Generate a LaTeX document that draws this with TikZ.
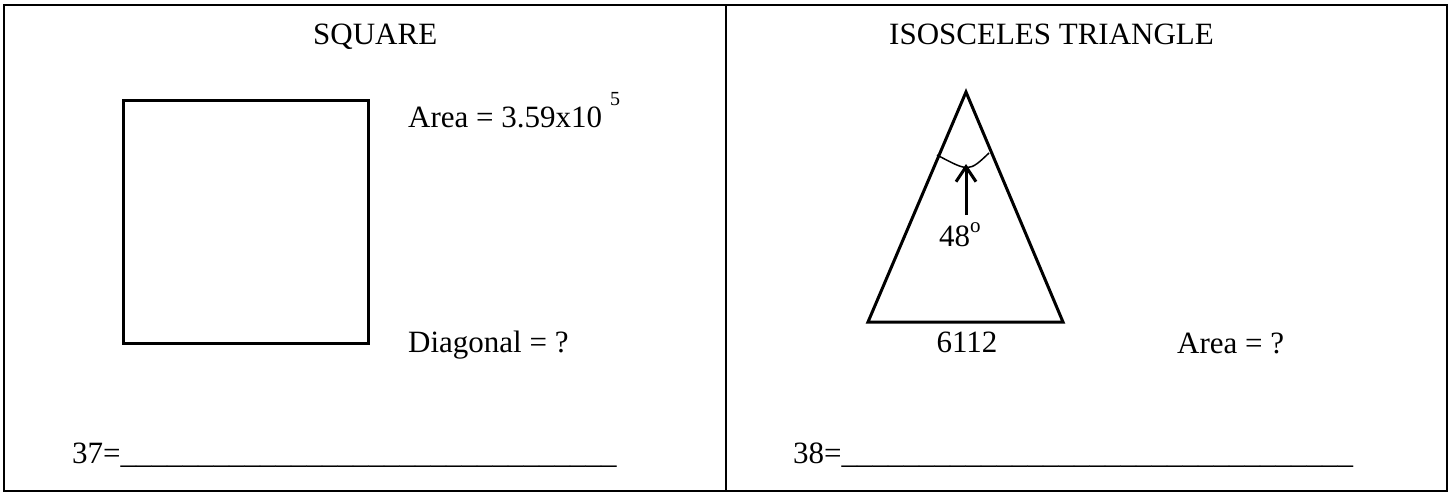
\documentclass[tikz,border=0pt]{standalone}
\usepackage{fontspec}
\setmainfont{Liberation Serif}
\usetikzlibrary{arrows.meta}
\begin{document}
\begin{tikzpicture}[x=1pt,y=-1pt,
  txt/.style={anchor=base west,inner sep=0pt,font=\fontsize{31}{37}\selectfont},
  ctxt/.style={anchor=base,inner sep=0pt,font=\fontsize{31}{37}\selectfont},
  framebox/.style={line width=1.5pt,draw=black},
  figline/.style={line width=3pt,draw=black},
  arcline/.style={line width=1.5pt,draw=black},
  pointer/.style={line width=3pt,draw=black,-{Straight Barb[length=15pt,width=20pt,line width=3pt]}}
]
\useasboundingbox (0,0) rectangle (1452,493);
% frame
\coordinate (tl) at (4,5);
\coordinate (brc) at (1447,491);
\coordinate (dtop) at (726,5);
\coordinate (dbot) at (726,491);
\draw[framebox] (tl) rectangle (brc);
\draw[framebox] (dtop) -- (dbot);
% left panel
\node[txt] (t1) at (313,44) {SQUARE};
\coordinate (sq1) at (123,100);
\coordinate (sq2) at (368,343);
\draw[figline] (sq1) rectangle (sq2);
\node[txt] (area1) at (408,127) {Area = 3.59x10\hspace{8pt}\raisebox{22pt}{\fontsize{20}{20}\selectfont 5}};
\node[txt] (diag) at (408,352) {Diagonal = ?};
\node[txt] (q37) at (72,463) {37=\_\_\_\_\_\_\_\_\_\_\_\_\_\_\_\_\_\_\_\_\_\_\_\_\_\_\_\_\_\_\_\_};
% right panel
\node[txt] (t2) at (889,44) {ISOSCELES TRIANGLE};
\coordinate (apex) at (966,92);
\coordinate (bl) at (868,322);
\coordinate (br) at (1063,322);
\draw[figline,line join=miter] (apex) -- (bl) -- (br) -- cycle;
\coordinate (a1) at (937,155);
\coordinate (a2) at (989,153);
\draw[arcline] (a1) .. controls (969,172) .. (a2);
\coordinate (arrTail) at (966,215);
\coordinate (arrHead) at (966,164);
\draw[pointer] (arrTail) -- (arrHead);
\node[txt] (ang) at (939,246) {48\raisebox{14pt}{\fontsize{21}{21}\selectfont o}};
\node[ctxt] (base) at (967,352) {6112};
\node[txt] (area2) at (1177,353) {Area = ?};
\node[txt] (q38) at (793,463) {38=\_\_\_\_\_\_\_\_\_\_\_\_\_\_\_\_\_\_\_\_\_\_\_\_\_\_\_\_\_\_\_\_\_};
\end{tikzpicture}
\end{document}
